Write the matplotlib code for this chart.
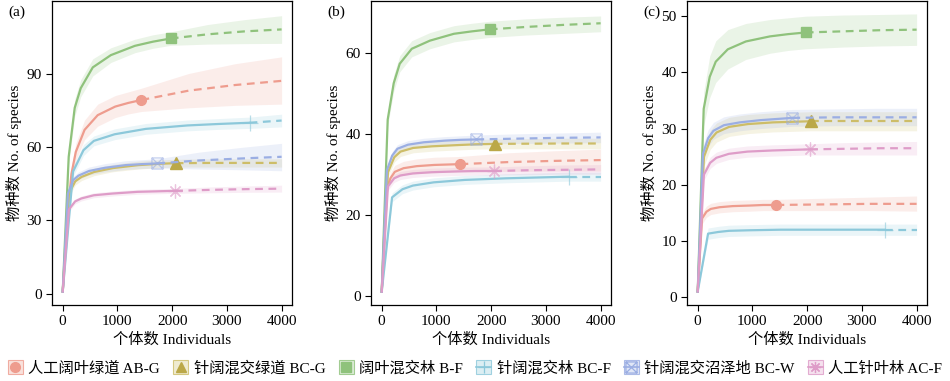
import matplotlib.pyplot as plt
from matplotlib.lines import Line2D
from matplotlib.patches import Patch
from matplotlib.path import Path
from matplotlib.colors import to_rgba

plt.rcParams['font.family'] = ['Liberation Serif', 'Noto Sans CJK SC']
plt.rcParams['font.size'] = 11

labels = ['人工阔叶绿道 AB-G', '针阔混交绿道 BC-G', '阔叶混交林 B-F',
          '针阔混交林 BC-F', '针阔混交沼泽地 BC-W', '人工针叶林 AC-F']
colors = ['#EE9C8E', '#CDBD68', '#8FC27C', '#8CC8DA', '#9BAEE3', '#DE9CC8']
marker_colors = ['#EE9C8E', '#BBA848', '#8FC27C', '#8CC8DA', '#9BAEE3', '#DE9CC8']

# individuals (rarefaction knots up to observed n, then extrapolation to 4000)
x_abg = [1, 80, 160, 240, 400, 640, 960, 1200, 1440, 2300, 3150, 4000]
x_bcg = [1, 115, 230, 345, 575, 920, 1380, 1725, 2065, 2710, 3355, 4000]
x_bf = [1, 110, 220, 330, 550, 880, 1320, 1650, 1975, 2650, 3325, 4000]
x_bcf = [1, 190, 380, 570, 950, 1520, 2280, 2850, 3415, 3610, 3805, 4000]
x_bcw = [1, 96, 192, 288, 480, 770, 1150, 1440, 1730, 2490, 3245, 4000]
x_acf = [1, 114, 228, 342, 570, 910, 1370, 1710, 2055, 2705, 3350, 4000]
xs = [x_abg, x_bcg, x_bf, x_bcf, x_bcw, x_acf]
obs = 8  # index of the observed sample

# panel (a)
a_y = [
    [1, 30, 49, 58, 67, 73, 76.5, 78, 79.2, 83.0, 85.3, 87.0],
    [1, 41, 46, 47.8, 49.8, 51.4, 52.6, 53.1, 53.4, 53.5, 53.5, 53.5],
    [1, 56, 76, 84, 92.5, 97.5, 101.3, 103, 104.3, 106, 107.2, 108],
    [1, 50, 58.7, 62.5, 65.2, 67.4, 68.8, 69.4, 69.9, 70.2, 70.5, 70.8],
    [1, 41, 46.5, 48.3, 50.2, 51.5, 52.6, 53.0, 53.3, 54.5, 55.3, 56.0],
    [1, 34.5, 37.8, 39, 40.3, 41, 41.7, 41.9, 42.1, 42.5, 42.8, 43],
]
a_lo = [
    [1, 28, 46, 54.5, 63, 68.5, 72, 73.5, 74.5, 76, 77, 77.5],
    [1, 39.5, 44.5, 46.3, 48.3, 49.9, 51, 51.5, 51.8, 51.8, 51.8, 51.8],
    [1, 53, 72.5, 80.5, 89, 94.5, 98.5, 100.3, 101.5, 102, 102.2, 102.3],
    [1, 48, 56.5, 60.5, 63, 65.2, 66.6, 67.2, 67.6, 67.8, 68, 68.2],
    [1, 39.5, 45, 46.8, 48.6, 49.8, 50.8, 51.2, 51.4, 51, 50.7, 50.3],
    [1, 33.5, 36.8, 38, 39.3, 40, 40.7, 40.9, 41.1, 41.3, 41.5, 41.6],
]
a_hi = [
    [1, 32, 52, 61.5, 71, 77.5, 81, 82.5, 84, 90, 94, 96.8],
    [1, 42.5, 47.5, 49.3, 51.3, 52.9, 54.2, 54.7, 55, 55.2, 55.2, 55.2],
    [1, 59, 79.5, 87.5, 96, 100.5, 104, 105.8, 107, 110, 112, 113.6],
    [1, 52, 61, 64.5, 67.4, 69.6, 71, 71.6, 72.2, 72.6, 73, 73.4],
    [1, 42.5, 48, 49.8, 51.8, 53.2, 54.4, 54.8, 55.2, 57.9, 59.8, 61.5],
    [1, 35.5, 38.8, 40, 41.3, 42, 42.7, 42.9, 43.1, 43.7, 44.1, 44.4],
]

# panel (b)
b_y = [
    [1, 26, 29, 30.6, 31.5, 32, 32.3, 32.4, 32.5, 33.0, 33.3, 33.5],
    [1, 30.5, 34.2, 35.6, 36.5, 36.9, 37.2, 37.4, 37.5, 37.55, 37.6, 37.6],
    [1, 43.5, 52.5, 57.3, 61, 63, 64.7, 65.3, 65.8, 66.4, 66.9, 67.3],
    [1, 24.3, 26.3, 27.2, 28, 28.6, 29, 29.2, 29.4, 29.4, 29.4, 29.4],
    [1, 31, 34.6, 36.3, 37.3, 37.9, 38.3, 38.5, 38.6, 38.8, 39.0, 39.1],
    [1, 27, 29, 29.7, 30.2, 30.5, 30.7, 30.8, 30.8, 31.0, 31.1, 31.2],
]
b_lo = [
    [1, 24.8, 27.6, 29, 29.8, 30.2, 30.4, 30.5, 30.6, 30.7, 30.8, 30.8],
    [1, 29.3, 33, 34.4, 35.3, 35.7, 36, 36.2, 36.3, 36.3, 36.3, 36.3],
    [1, 42, 50.5, 55.3, 59, 61, 62.7, 63.3, 63.8, 64.4, 64.8, 65.2],
    [1, 23.2, 25.2, 26.1, 26.9, 27.5, 27.9, 28.1, 28.3, 28.3, 28.3, 28.3],
    [1, 30, 33.6, 35.3, 36.3, 36.9, 37.3, 37.4, 37.5, 37.6, 37.7, 37.8],
    [1, 26, 28, 28.7, 29.2, 29.5, 29.7, 29.8, 29.8, 29.9, 30.0, 30.0],
]
b_hi = [
    [1, 27.2, 30.4, 32.2, 33.2, 33.8, 34.2, 34.3, 34.4, 35.3, 35.8, 36.2],
    [1, 31.7, 35.4, 36.8, 37.7, 38.1, 38.4, 38.6, 38.7, 38.8, 38.9, 38.9],
    [1, 45, 54.5, 59.3, 63, 65, 66.7, 67.3, 67.8, 68.4, 68.8, 69.1],
    [1, 25.4, 27.4, 28.3, 29.1, 29.7, 30.1, 30.3, 30.5, 30.5, 30.5, 30.5],
    [1, 32, 35.6, 37.3, 38.3, 38.9, 39.3, 39.5, 39.7, 40, 40.2, 40.4],
    [1, 28, 30, 30.7, 31.2, 31.5, 31.7, 31.8, 31.8, 32.1, 32.3, 32.4],
]

# panel (c)
c_y = [
    [1, 14, 15.2, 15.7, 16.0, 16.2, 16.3, 16.4, 16.4, 16.5, 16.6, 16.6],
    [1, 25, 28, 29.3, 30.3, 30.8, 31.1, 31.2, 31.3, 31.3, 31.3, 31.3],
    [1, 33.5, 39.2, 41.9, 44.1, 45.5, 46.4, 46.8, 47.1, 47.3, 47.5, 47.6],
    [1, 11.3, 11.6, 11.8, 11.9, 12, 12, 12, 12, 12, 12, 12],
    [1, 25.5, 28.3, 29.6, 30.6, 31.1, 31.5, 31.7, 31.9, 32.0, 32.0, 32.0],
    [1, 21.8, 23.9, 24.8, 25.5, 25.9, 26.1, 26.2, 26.3, 26.4, 26.5, 26.5],
]
c_lo = [
    [1, 13, 14.2, 14.7, 15, 15.2, 15.3, 15.4, 15.4, 15.4, 15.4, 15.3],
    [1, 23.3, 26.3, 27.6, 28.6, 29.1, 29.4, 29.5, 29.6, 29.6, 29.6, 29.6],
    [1, 30.5, 35.5, 38.2, 40.6, 42.3, 43.4, 43.9, 44.2, 44.5, 44.7, 44.8],
    [1, 10.3, 10.6, 10.8, 10.9, 11, 11, 11, 11, 11, 11, 11],
    [1, 24, 26.8, 28.1, 29.1, 29.6, 30, 30.2, 30.4, 30.5, 30.5, 30.5],
    [1, 20.8, 22.9, 23.8, 24.5, 24.9, 25.1, 25.2, 25.3, 25.3, 25.3, 25.3],
]
c_hi = [
    [1, 15, 16.2, 16.7, 17, 17.2, 17.3, 17.4, 17.4, 17.6, 17.8, 18.0],
    [1, 26.7, 29.7, 31, 32, 32.5, 32.8, 32.9, 33, 33, 33, 33],
    [1, 36.5, 42.9, 45.6, 47.6, 48.7, 49.4, 49.7, 50, 50.2, 50.3, 50.4],
    [1, 12.3, 12.6, 12.8, 12.9, 13, 13, 13, 13, 13, 13, 13],
    [1, 27, 29.8, 31.1, 32.1, 32.6, 33, 33.2, 33.4, 33.5, 33.6, 33.6],
    [1, 22.8, 24.9, 25.8, 26.5, 26.9, 27.1, 27.2, 27.3, 27.5, 27.6, 27.7],
]

panels = [
    ('(a)', a_y, a_lo, a_hi, [0, 30, 60, 90], (-4.5, 119.6)),
    ('(b)', b_y, b_lo, b_hi, [0, 20, 40, 60], (-2.3, 72.8)),
    ('(c)', c_y, c_lo, c_hi, [0, 10, 20, 30, 40, 50], (-1.4, 52.7)),
]

# square with a cross, like R's shape 7
sqx = Path([(-1, -1), (1, -1), (1, 1), (-1, 1), (-1, -1),
            (-1, -1), (1, 1), (-1, 1), (1, -1)],
           [Path.MOVETO, Path.LINETO, Path.LINETO, Path.LINETO, Path.CLOSEPOLY,
            Path.MOVETO, Path.LINETO, Path.MOVETO, Path.LINETO])
markers = ['o', '^', 's', '+', sqx, (8, 2, 0)]
msizes = [7, 8, 7, 12, 8, 10]

fig = plt.figure(figsize=(9.5, 3.81), dpi=100)
lefts = [52, 371, 687]
for k, (tag, ys, los, his, yt, ylim) in enumerate(panels):
    ax = fig.add_axes([lefts[k] / 950, 1 - 305 / 381, 240 / 950, 304 / 381])
    for i in range(6):
        ax.fill_between(xs[i], los[i], his[i], color=colors[i], alpha=0.18, lw=0)
    for i in range(6):
        x = xs[i]
        y = ys[i]
        ax.plot(x[:obs + 1], y[:obs + 1], color=colors[i], lw=1.6)
        ax.plot(x[obs:], y[obs:], color=colors[i], lw=1.6, dashes=(3.5, 2.5))
        if i >= 3:
            ax.plot(x[obs], y[obs], marker=markers[i], ms=msizes[i], mfc='none',
                    mec=colors[i], mew=0.9, alpha=0.6, ls='none')
        else:
            ax.plot(x[obs], y[obs], marker=markers[i], ms=msizes[i],
                    color=marker_colors[i], ls='none')
    ax.set_xlim(-195, 4190)
    ax.set_ylim(*ylim)
    ax.set_xticks([0, 1000, 2000, 3000, 4000])
    ax.set_yticks(yt)
    ax.tick_params(direction='out', length=4, width=0.8, labelsize=11)
    for sp in ax.spines.values():
        sp.set_linewidth(0.9)
    ax.set_xlabel('个体数 Individuals', fontsize=11, labelpad=3)
    ax.set_ylabel('物种数 No. of species', fontsize=11, labelpad=3)
    fig.text((lefts[k] - 44) / 950, 1 - 12 / 381, tag, fontsize=11, va='center')

handles = []
for i in range(6):
    p = Patch(facecolor=to_rgba(colors[i], 0.3), edgecolor=to_rgba(colors[i], 0.8), lw=0.8)
    if i >= 3:
        ln = Line2D([], [], color=colors[i], lw=1.2, marker=markers[i], ms=8,
                    mfc='none', mec=colors[i], mew=0.9)
    else:
        ln = Line2D([], [], lw=0, marker=markers[i], ms=7, color=marker_colors[i])
    handles.append((p, ln))

fig.legend(handles, labels, loc='center', bbox_to_anchor=(0.5, 1 - 368 / 381), ncol=6,
           frameon=False, handlelength=1.0, handleheight=1.0, handletextpad=0.35,
           columnspacing=0.85, fontsize=11, borderaxespad=0, borderpad=0)

fig.savefig('out.png', dpi=100)
